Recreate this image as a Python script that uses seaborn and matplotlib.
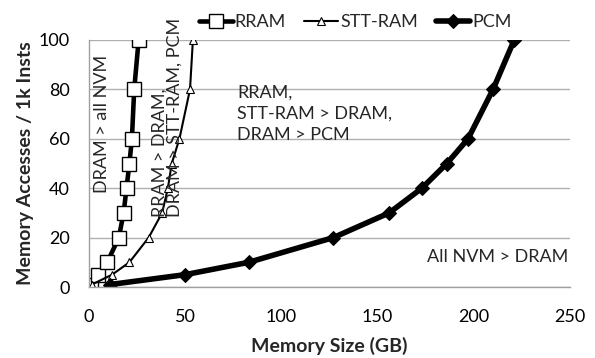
import matplotlib
matplotlib.use("Agg")
import matplotlib.pyplot as plt
import seaborn as sns
import pandas as pd

# ---- data ----
rram_x = [1, 4.5, 9.5, 15.5, 18, 19.5, 21, 22.3, 23.5, 25.8]
rram_y = [1, 5, 10, 20, 30, 40, 50, 60, 80, 100]
stt_x = [1.5, 12, 21, 31, 38, 41, 43, 47, 52.5, 54]
stt_y = [1, 5, 10, 20, 30, 40, 50, 60, 80, 100]
pcm_x = [11, 50, 83, 127, 156, 173, 186, 197, 210, 221]
pcm_y = [1, 5, 10, 20, 30, 40, 50, 60, 80, 100]
series_names = ["RRAM", "STT-RAM", "PCM"]
x_ticks = [0, 50, 100, 150, 200, 250]
y_ticks = [0, 20, 40, 60, 80, 100]

sns.set_theme(style="white")
plt.rcParams["font.family"] = ["Lato", "DejaVu Sans"]

fig = plt.figure(figsize=(5.95, 3.58), dpi=100)
ax = fig.add_axes([89/595, 71/358, 481/595, 247/358])

styles = {
    "RRAM": dict(marker="s", markersize=9.5, markerfacecolor="white", markeredgecolor="black",
                 markeredgewidth=1.0, linewidth=3.3),
    "STT-RAM": dict(marker="^", markersize=6, markerfacecolor="white", markeredgecolor="black",
                    markeredgewidth=0.8, linewidth=1.5),
    "PCM": dict(marker="D", markersize=7, markerfacecolor="black", markeredgecolor="black",
                linewidth=4.0),
}
data = {"RRAM": (rram_x, rram_y), "STT-RAM": (stt_x, stt_y), "PCM": (pcm_x, pcm_y)}
for name in series_names:
    xs, ys = data[name]
    df = pd.DataFrame({"x": xs, "y": ys})
    sns.lineplot(data=df, x="x", y="y", ax=ax, sort=False, estimator=None,
                 color="black", label=name, **styles[name])

ax.set_xlim(0, 250)
ax.set_ylim(0, 100)
ax.set_xticks(x_ticks)
ax.set_yticks(y_ticks)
ax.tick_params(axis="x", direction="out", labelsize=13, color="#a0a0a0", labelcolor="black",
               length=4.5, width=1.0, pad=11)
ax.tick_params(axis="y", direction="out", labelsize=13, color="#a0a0a0", labelcolor="black",
               length=4, width=1.0, pad=10)
ax.yaxis.grid(True, color="#b0b0b0", linewidth=1.0)
ax.xaxis.grid(False)
for s in ["top", "right"]:
    ax.spines[s].set_visible(False)
for s in ["left", "bottom"]:
    ax.spines[s].set_color("#a0a0a0")
    ax.spines[s].set_linewidth(1.0)
ax.set_axisbelow(True)

ax.set_xlabel("Memory Size (GB)", fontsize=14, fontweight="bold", labelpad=9)
ax.set_ylabel("Memory Accesses / 1k Insts", fontsize=14, fontweight="bold", labelpad=3)

ax.legend(loc="upper center", bbox_to_anchor=(355/595, 1.0), bbox_transform=fig.transFigure,
          ncol=3, frameon=False, fontsize=13, handlelength=1.9, handletextpad=0.1,
          columnspacing=1.0, borderaxespad=0.4)

# annotations
ax.text(6.5, 66, "DRAM > all NVM", rotation=90, fontsize=13, ha="center", va="center")
ax.text(40.5, 28.5, "RRAM > DRAM,\nDRAM > STT-RAM, PCM", rotation=90, fontsize=13,
        ha="center", va="bottom", multialignment="left", linespacing=0.95)
ax.text(77, 82, "RRAM,\nSTT-RAM > DRAM,\nDRAM > PCM", fontsize=13, ha="left", va="top",
        linespacing=1.4)
ax.text(249, 12, "All NVM > DRAM", fontsize=13, ha="right", va="center")

fig.savefig("out.png", dpi=100)
